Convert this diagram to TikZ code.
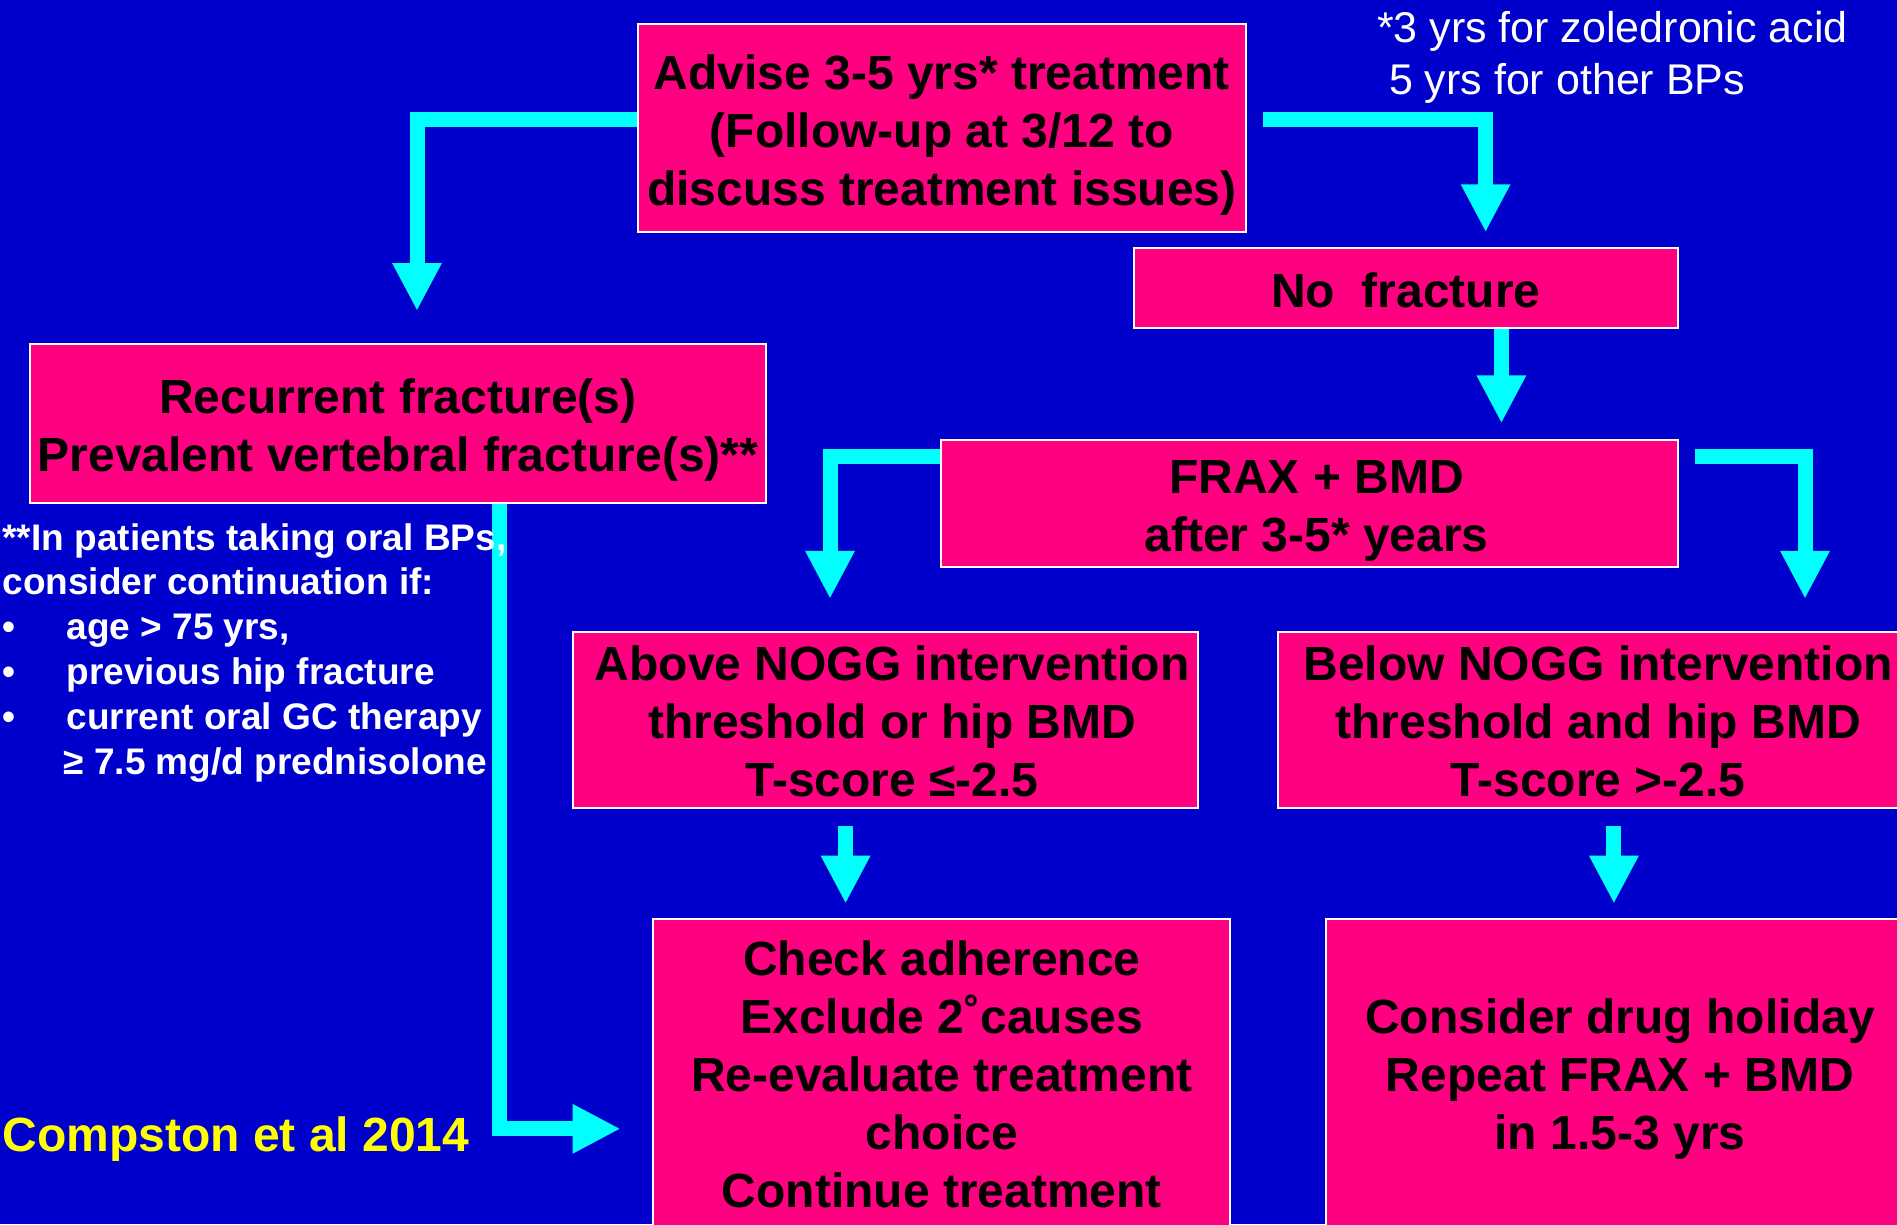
\documentclass[tikz,border=0pt]{standalone}
\usepackage{fontspec}
\setmainfont{Liberation Sans}
\usetikzlibrary{arrows.meta}
\definecolor{bgblue}{HTML}{0000CC}
\definecolor{boxpink}{HTML}{FF0080}
\definecolor{arrcyan}{HTML}{00FFFF}
\definecolor{refyellow}{HTML}{FFFF00}
\begin{document}
\begin{tikzpicture}[x=1pt,y=-1pt,
  box/.style={draw=white, line width=2pt, fill=boxpink, inner sep=0pt},
  btext/.style={inner sep=0pt, align=center,
    font=\fontsize{48}{58}\selectfont\bfseries, text=black},
  arr/.style={draw=arrcyan, line width=15pt, line join=miter,
    -{Triangle[width=46pt,length=48pt]}},
  note/.style={text=white, inner sep=0pt, align=left}]
\fill[bgblue] (0,0) rectangle (1897,1224);
\useasboundingbox (0,0) rectangle (1897,1224);

% boxes
\node[box, minimum width=608.5pt, minimum height=208.1pt] (advise) at (941.85,128.25) {};
\node[btext] (advise-t) at ([yshift=-7pt]advise.center)
  {Advise 3-5 yrs* treatment\\(Follow-up at 3/12 to\\discuss treatment issues)};
\node[box, minimum width=544.4pt, minimum height=79.9pt] (nofrac) at (1405.8,287.95) {};
\node[btext] (nofrac-t) at ([yshift=-2.5pt]nofrac.center) {No~~fracture};
\node[box, minimum width=735.6pt, minimum height=159.7pt] (recur) at (398,423.45) {};
\node[btext] (recur-t) at ([yshift=-7pt]recur.center)
  {Recurrent fracture(s)\\Prevalent vertebral fracture(s)**};
\node[box, minimum width=736.8pt, minimum height=127pt] (frax) at (1309.6,503.9) {};
\node[btext] (frax-t) at ([xshift=7pt,yshift=-7pt]frax.center) {FRAX + BMD\\after 3-5* years};
\node[box, minimum width=624.3pt, minimum height=176.6pt] (above) at (885.55,719.8) {};
\node[btext] (above-t) at ([xshift=6.5pt,yshift=-1.2pt]above.center)
  {Above NOGG intervention\\threshold or hip BMD\\T-score ≤-2.5};
\node[box, minimum width=634pt, minimum height=176.6pt] (below) at (1594.5,719.8) {};
\node[btext] (below-t) at ([xshift=3.6pt,yshift=-1.2pt]below.center)
  {Below NOGG intervention\\threshold and hip BMD\\T-score >-2.5};
\node[box, minimum width=577.1pt, minimum height=309.2pt] (check) at (941.85,1074) {};
\node[btext] (check-t) at (check.center)
  {Check adherence\\Exclude 2˚causes\\Re-evaluate treatment\\choice\\Continue treatment};
\node[box, minimum width=588pt, minimum height=309.2pt] (holiday) at (1620,1074) {};
\node[btext] (holiday-t) at ([yshift=-4.8pt]holiday.center)
  {Consider drug holiday\\Repeat FRAX + BMD\\in 1.5-3 yrs};

% arrow tips
\coordinate (t1) at (417,311);
\coordinate (t2) at (1485.6,232.3);
\coordinate (t3) at (1501.4,423.4);
\coordinate (t4) at (830,598.9);
\coordinate (t5) at (1805,598.9);
\coordinate (t6) at (845.6,903.7);
\coordinate (t7) at (1613.9,903.7);
\coordinate (t8) at (620.6,1128.8);

% connectors
\draw[arr] ([yshift=8.45pt]advise.west) -| (t1);
\draw[arr] ([xshift=16pt,yshift=8.45pt]advise.east) -| (t2);
\draw[arr] (nofrac.south -| t3) -- (t3);
\draw[arr] ([yshift=47.8pt]frax.west) -| (t4);
\draw[arr] ([xshift=15.7pt,yshift=47.8pt]frax.east) -| (t5);
\draw[arr, shorten <=17pt] (above.south -| t6) -- (t6);
\draw[arr, shorten <=17pt] (below.south -| t7) -- (t7);
\draw[arr] ([xshift=101.6pt]recur.south) |- (t8);

% free texts
\node[note, anchor=north west, font=\fontsize{43}{52}\selectfont] (foot) at (1376.8,11)
  {*3 yrs for zoledronic acid\\\hspace*{12pt}5 yrs for other BPs};
\node[note, anchor=north west, font=\fontsize{37}{44.8}\selectfont\bfseries] (cont) at (2.4,523)
  {**In patients taking oral BPs,\\
   consider continuation if:\\
   \makebox[64pt][l]{•}age > 75 yrs,\\
   \makebox[64pt][l]{•}previous hip fracture\\
   \makebox[64pt][l]{•}current oral GC therapy\\
   \hspace*{61pt}≥ 7.5 mg/d prednisolone};
\node[anchor=base west, inner sep=0pt, text=refyellow, font=\fontsize{48}{58}\selectfont\bfseries] (ref) at (2.4,1151)
  {Compston et al 2014};
\end{tikzpicture}
\end{document}
